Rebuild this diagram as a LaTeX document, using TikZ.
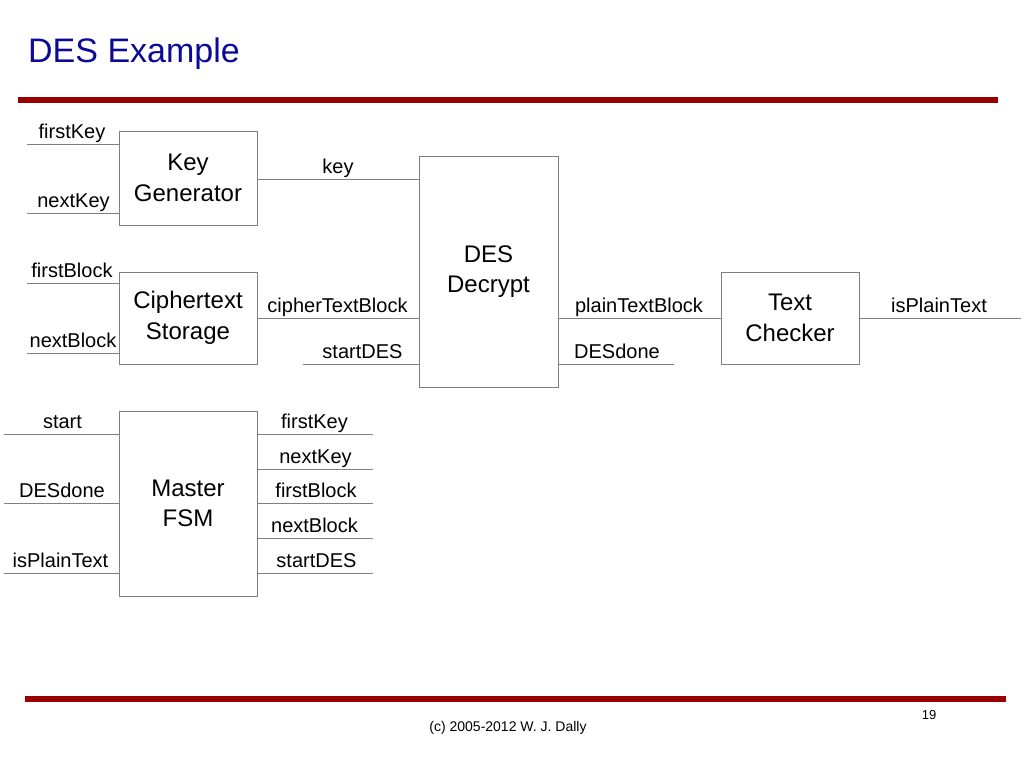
\documentclass[tikz,border=0pt]{standalone}
\usepackage{fontspec}
\setmainfont{Liberation Sans}
\definecolor{barred}{RGB}{153,0,0}
\definecolor{titleblue}{RGB}{10,10,150}
\definecolor{wiregray}{RGB}{128,128,128}
\begin{document}
\begin{tikzpicture}[x=1pt,y=-1pt,
  blk/.style={draw=wiregray, line width=0.9pt, inner sep=0pt, align=center,
              font=\fontsize{24}{30.5}\selectfont},
  wire/.style={draw=wiregray, line width=0.9pt},
  lbl/.style={anchor=base, inner sep=0pt, font=\fontsize{20}{24}\selectfont},
  bar/.style={draw=barred, line width=6pt}]
\useasboundingbox (0,0) rectangle (1024,768);

% title and bars
\node[anchor=base west, inner sep=0pt, text=titleblue, font=\fontsize{34}{40}\selectfont] (title) at (28,63) {DES Example};
\coordinate (tb1) at (18,100);  \coordinate (tb2) at (998,100);
\draw[bar] (tb1) -- (tb2);
\coordinate (bb1) at (25,699);  \coordinate (bb2) at (1006,699);
\draw[bar] (bb1) -- (bb2);
\node[anchor=base, inner sep=0pt, font=\fontsize{13}{15}\selectfont] (pg) at (929,719) {19};
\node[anchor=base, inner sep=0pt, font=\fontsize{14}{16}\selectfont] (copy) at (508,731) {(c) 2005-2012 W. J. Dally};

% blocks
\node[blk, minimum width=138pt, minimum height=94pt] (kg) at (188,178) {Key\\Generator};
\node[blk, minimum width=138pt, minimum height=92pt] (cs) at (188,318) {Ciphertext\\Storage};
\node[blk, minimum width=139pt, minimum height=231pt] (des) at (488.5,271.5) {DES\\Decrypt};
\node[blk, minimum width=138pt, minimum height=92pt] (tc) at (790,318) {Text\\Checker};
\node[blk, minimum width=138pt, minimum height=185pt] (fsm) at (188,503.5) {Master\\FSM};

% y levels
\coordinate (y144) at (0,144);
\coordinate (y179) at (0,179);
\coordinate (y213) at (0,213);
\coordinate (y283) at (0,283);
\coordinate (y353) at (0,353);
\coordinate (y364) at (0,364);
\coordinate (y434) at (0,434);
\coordinate (y469) at (0,469);
\coordinate (y503) at (0,503);
\coordinate (y538) at (0,538);
\coordinate (y573) at (0,573);

% free ends
\coordinate (fkIn) at (27,144);
\coordinate (nkIn) at (27,213);
\coordinate (fbIn) at (27,283);
\coordinate (nbIn) at (27,353);
\coordinate (sdIn) at (303,364);
\coordinate (ddOut) at (674,364);
\coordinate (ptOut) at (1021,318);
\coordinate (stIn) at (4,434);
\coordinate (ddIn) at (4,503);
\coordinate (ipIn) at (4,573);
\coordinate (o1) at (373,434);
\coordinate (o2) at (373,469);
\coordinate (o3) at (373,503);
\coordinate (o4) at (373,538);
\coordinate (o5) at (373,573);

% wires
\draw[wire] (fkIn) -- (kg.west |- y144);
\draw[wire] (nkIn) -- (kg.west |- y213);
\draw[wire] (kg.east |- y179) -- (des.west |- y179);
\draw[wire] (fbIn) -- (cs.west |- y283);
\draw[wire] (nbIn) -- (cs.west |- y353);
\draw[wire] (cs.east) -- (des.west |- cs.east);
\draw[wire] (sdIn) -- (des.west |- y364);
\draw[wire] (des.east |- tc.west) -- (tc.west);
\draw[wire] (des.east |- y364) -- (ddOut);
\draw[wire] (tc.east) -- (ptOut);
\draw[wire] (stIn) -- (fsm.west |- y434);
\draw[wire] (ddIn) -- (fsm.west |- y503);
\draw[wire] (ipIn) -- (fsm.west |- y573);
\draw[wire] (fsm.east |- y434) -- (o1);
\draw[wire] (fsm.east |- y469) -- (o2);
\draw[wire] (fsm.east |- y503) -- (o3);
\draw[wire] (fsm.east |- y538) -- (o4);
\draw[wire] (fsm.east |- y573) -- (o5);

% labels
\node[lbl] (l1) at (72,138.5) {firstKey};
\node[lbl] (l2) at (73.5,207.5) {nextKey};
\node[lbl] (l3) at (338,173) {key};
\node[lbl] (l4) at (72,277) {firstBlock};
\node[lbl] (l5) at (73,347) {nextBlock};
\node[lbl] (l6) at (337.5,312) {cipherTextBlock};
\node[lbl] (l7) at (362.5,358) {startDES};
\node[lbl] (l8) at (639,312) {plainTextBlock};
\node[lbl] (l9) at (617,358) {DESdone};
\node[lbl] (l10) at (939,312) {isPlainText};
\node[lbl] (l11) at (62.5,428.5) {start};
\node[lbl] (l12) at (62,497.5) {DESdone};
\node[lbl] (l13) at (60.5,567.5) {isPlainText};
\node[lbl] (l14) at (314.5,428.5) {firstKey};
\node[lbl] (l15) at (315.5,463.5) {nextKey};
\node[lbl] (l16) at (316,497.5) {firstBlock};
\node[lbl] (l17) at (314.5,532.5) {nextBlock};
\node[lbl] (l18) at (316.5,567.5) {startDES};
\end{tikzpicture}
\end{document}
